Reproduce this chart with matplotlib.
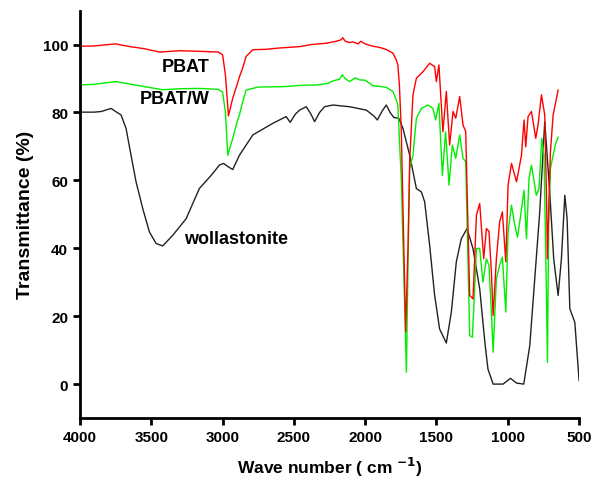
import numpy as np
import matplotlib.pyplot as plt

plt.rcParams['font.family'] = ['Liberation Sans', 'DejaVu Sans']

# PBAT (red)
pbat_wn = [4000, 3900, 3750, 3650, 3550, 3440, 3300, 3150, 3030, 3000, 2980, 2959, 2929, 2900,
           2882, 2860, 2835, 2788, 2700, 2600, 2460, 2380, 2273, 2200, 2170, 2157, 2140, 2110,
           2086, 2050, 2030, 2016, 2000, 1946, 1900, 1850, 1806, 1782, 1771, 1760, 1747, 1716,
           1700, 1688, 1665, 1641, 1595, 1548, 1513, 1501, 1483, 1455, 1431, 1408, 1384, 1365,
           1337, 1314, 1295, 1279, 1267, 1244, 1220, 1197, 1169, 1150, 1132, 1115, 1103, 1080,
           1057, 1038, 1014, 998, 974, 939, 921, 904, 886, 874, 858, 834, 804, 788, 764, 741,
           729, 722, 711, 701, 682, 647]
pbat_t = [99.5, 99.6, 100.2, 99.4, 98.8, 97.8, 98.2, 98.0, 97.8, 97, 91, 79, 84.2, 88,
          90.5, 93, 96.5, 98.5, 98.6, 99.0, 99.4, 100.0, 100.4, 101.0, 101.4, 102.0, 101.0, 100.6,
          100.8, 100.2, 101.0, 100.6, 100.2, 99.5, 99.2, 98.5, 97.5, 95.5, 94, 88, 75, 15.3,
          40, 65.6, 85.2, 90.1, 92, 94.5, 93.5, 89.1, 94, 74.3, 86.2, 70.4, 80.3, 78.3,
          84.7, 76.3, 74.4, 45.8, 26.1, 25.1, 49.7, 53.2, 36.9, 45.8, 45, 33, 20.2, 36.9,
          47.8, 50.7, 36, 58.6, 65, 59.6, 63.5, 67.4, 77.8, 69.9, 78.8, 80.3, 72.4, 76.3, 85.2, 79.3,
          56.6, 36.9, 54.7, 68.4, 79.3, 86.6]

# PBAT/W (green)
pbatw_wn = [4000, 3900, 3750, 3600, 3420, 3300, 3163, 3030, 3000, 2980, 2964, 2929, 2900, 2882,
            2860, 2835, 2750, 2578, 2450, 2343, 2260, 2227, 2180, 2161, 2140, 2110, 2070, 2039,
            2000, 1946, 1900, 1852, 1806, 1782, 1771, 1760, 1747, 1711, 1700, 1688, 1665, 1641,
            1606, 1560, 1525, 1506, 1483, 1459, 1436, 1412, 1389, 1365, 1337, 1314, 1295, 1279,
            1267, 1248, 1220, 1197, 1174, 1150, 1132, 1115, 1103, 1080, 1057, 1038, 1014, 998,
            974, 951, 932, 916, 886, 869, 851, 834, 800, 781, 762, 746, 729, 722, 713, 701,
            682, 664, 647]
pbatw_t = [88.1, 88.3, 89.1, 88, 86.7, 87, 87.1, 86.8, 86, 80, 67.4, 72.4, 77, 79.3,
           83, 86.6, 87.5, 87.6, 88, 88.1, 88.6, 89.3, 89.8, 91.1, 90, 89.1, 90.2, 89.6,
           89.5, 87.9, 87.7, 87.4, 86.2, 83.7, 82.2, 72, 60.6, 3.5, 35, 63.5, 67.4, 78.3,
           81.2, 82.2, 81.2, 77.8, 82.7, 61.5, 74.3, 58.6, 70.4, 66.5, 73.4, 66.5, 65.5, 36,
           14.3, 13.8, 39.9, 40, 30, 36.9, 35, 21.2, 9.4, 31, 35, 37.4, 21.2, 44.8,
           52.7, 46.8, 43.3, 47.8, 57.1, 42.8, 60.6, 64.5, 55.6, 57.6, 72.4, 67.4, 27.1, 6.4, 46.8, 63.5,
           67.4, 70.9, 72.7]

# wollastonite (black)
woll_wn = [4000, 3900, 3850, 3782, 3740, 3712, 3677, 3642, 3607, 3560, 3513, 3466, 3420, 3350,
           3256, 3163, 3080, 3022, 2994, 2960, 2929, 2882, 2788, 2648, 2554, 2526, 2490, 2460,
           2413, 2380, 2355, 2320, 2285, 2227, 2110, 1992, 1940, 1915, 1880, 1852, 1825, 1799,
           1764, 1735, 1688, 1641, 1606, 1583, 1548, 1513, 1478, 1431, 1396, 1361, 1326, 1286,
           1244, 1197, 1160, 1139, 1103, 1033, 981, 939, 888, 846, 811, 776, 741, 706,
           678, 647, 624, 600, 584, 565, 530, 500]
woll_t = [80.1, 80.1, 80.3, 81.2, 80.0, 79.3, 75.3, 67.4, 59.6, 51.7, 44.8, 41.4, 40.7, 43.8,
          48.7, 57.6, 61.5, 64.5, 65, 64, 63.2, 67.4, 73.4, 76.8, 78.8, 77.1, 79.5, 80.7,
          81.7, 79.5, 77.3, 80, 81.7, 82.2, 81.7, 80.7, 79, 77.8, 80.5, 82.2, 80, 78.5,
          78.3, 75.3, 67.4, 57.6, 56.6, 53.7, 40.9, 26.1, 16.2, 12.1, 21.2, 36, 42.8, 45.8,
          39.9, 28.1, 12, 4.4, 0, 0, 1.7, 0.3, 0, 11.3, 31, 50.7, 77.3, 56.6,
          36.9, 26.1, 36.9, 55.6, 48.7, 22.2, 18.2, 1]

fig = plt.figure(figsize=(5.97, 4.85), dpi=100)
ax = fig.add_axes([0.134, 0.136, 0.836, 0.84])

ax.plot(woll_wn, woll_t, color='#222222', lw=1.0)
ax.plot(pbatw_wn, pbatw_t, color='#00ee00', lw=1.0)
ax.plot(pbat_wn, pbat_t, color='#ff0000', lw=1.0)

ax.set_xlim(4000, 500)
ax.set_ylim(-10, 110)
ax.set_xticks([4000, 3500, 3000, 2500, 2000, 1500, 1000, 500])
ax.set_yticks([0, 20, 40, 60, 80, 100])

for s in ['top', 'right']:
    ax.spines[s].set_visible(False)
for s in ['left', 'bottom']:
    ax.spines[s].set_linewidth(2)
ax.tick_params(direction='out', width=2, length=5, labelsize=11)
for lab in ax.get_xticklabels() + ax.get_yticklabels():
    lab.set_fontweight('bold')

ax.set_xlabel('Wave number ( cm $^{\\mathbf{-1}}$)', fontsize=12.5, fontweight='bold', labelpad=8)
ax.set_ylabel('Transmittance (%)', fontsize=14, fontweight='bold', labelpad=6)

ax.text(3261, 93.6, 'PBAT', fontsize=13, fontweight='bold', ha='center', va='center')
ax.text(3338, 84.2, 'PBAT/W', fontsize=13, fontweight='bold', ha='center', va='center')
ax.text(2903, 42.8, 'wollastonite', fontsize=13, fontweight='bold', ha='center', va='center')

fig.savefig('out.png', dpi=100)
